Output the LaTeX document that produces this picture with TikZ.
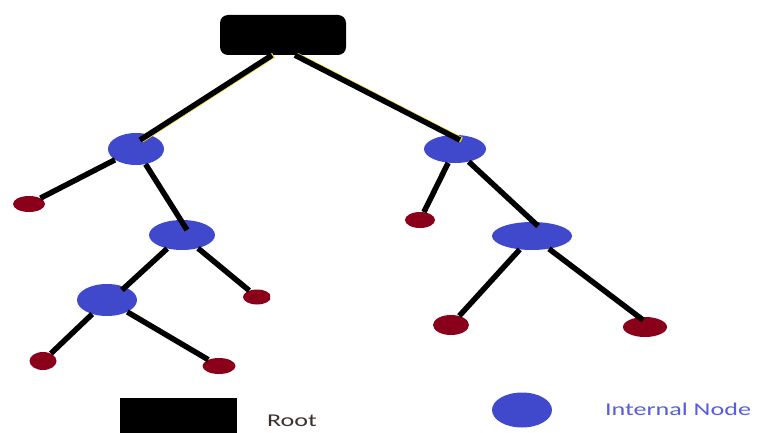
\documentclass[tikz,border=0pt]{standalone}
\usepackage{fontspec}
\setmainfont{Carlito}
\usetikzlibrary{shapes.geometric}
\definecolor{inblue}{RGB}{64,72,204}
\definecolor{leafred}{RGB}{138,0,26}
\definecolor{labelblue}{RGB}{88,92,222}
\definecolor{labeldark}{RGB}{58,50,42}
\definecolor{edgeglow}{RGB}{235,220,40}
\begin{document}
\begin{tikzpicture}[x=1pt,y=-1pt,
  rootbox/.style={fill=black,rounded corners=8pt,minimum width=126pt,minimum height=40pt,inner sep=0pt},
  inner/.style={ellipse,fill=inblue,inner sep=0pt},
  leaf/.style={ellipse,fill=leafred,inner sep=0pt,minimum width=30pt,minimum height=16pt},
  edge/.style={line width=5.5pt,black},
  glow/.style={line width=5.5pt,edgeglow},
  legendtext/.style={font=\fontsize{18}{20}\selectfont,xscale=1.45,inner sep=0pt}]
\useasboundingbox (0,0) rectangle (757,433);

% root
\node[rootbox] (root) at (283,35) {};

% internal nodes
\node[inner,minimum width=56pt,minimum height=32pt] (a) at (136,149) {};
\node[inner,minimum width=66pt,minimum height=30pt] (b) at (182,235) {};
\node[inner,minimum width=60pt,minimum height=32pt] (c) at (107,300) {};
\node[inner,minimum width=62pt,minimum height=28pt] (d) at (455,149) {};
\node[inner,minimum width=80pt,minimum height=28pt] (e) at (532,236) {};

% leaves
\node[leaf,minimum width=32pt] (l1) at (29,204) {};
\begin{scope}
  \clip (0,0) rectangle (270,433);
  \node[leaf,minimum width=28pt,minimum height=15pt] (l2) at (257,297) {};
\end{scope}
\node[leaf,minimum width=27pt,minimum height=18pt] (l3) at (43,361) {};
\node[leaf,minimum width=33pt] (l4) at (219,366) {};
\node[leaf,minimum width=30pt] (r1) at (420,220) {};
\node[leaf,minimum width=36pt,minimum height=20pt] (r2) at (451,325) {};
\node[leaf,minimum width=44pt,minimum height=20pt] (r3) at (645,327) {};

% edges from the root, with a faint yellow fringe
\draw[glow] ([xshift=-9.5pt]root.south) -- ([xshift=5.5pt,yshift=9pt]a.center);
\draw[glow] ([xshift=13.5pt]root.south) -- ([xshift=6.5pt,yshift=9pt]d.center);
\draw[edge] ([xshift=-11pt]root.south) -- ([xshift=4pt,yshift=9pt]a.center);
\draw[edge] ([xshift=12pt]root.south) -- ([xshift=5pt,yshift=9pt]d.center);

% remaining edges
\draw[edge] (a) -- (l1);
\draw[edge] (a) -- ([xshift=5pt,yshift=5pt]b.center);
\draw[edge] (b) -- (l2);
\draw[edge] (b) -- ([xshift=15pt,yshift=10pt]c.center);
\draw[edge] (c) -- (l3);
\draw[edge] (c) -- (l4);
\draw[edge] (d) -- (r1);
\draw[edge] (d) -- ([xshift=6pt,yshift=10pt]e.center);
\draw[edge] (e) -- (r2);
\draw[edge] (e) -- ([xshift=-2pt,yshift=7pt]r3.center);

% legend
\fill[black] (120,398) rectangle (237,440);
\node[legendtext,text=labeldark] (rootlabel) at (292,421) {Root};
\node[inner,minimum width=60pt,minimum height=35pt] (legendnode) at (522,410) {};
\node[legendtext,text=labelblue] (innerlabel) at (678,409) {Internal Node};
\end{tikzpicture}
\end{document}
